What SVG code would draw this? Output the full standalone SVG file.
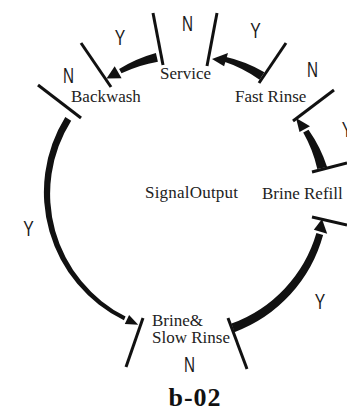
<svg xmlns="http://www.w3.org/2000/svg" width="347" height="410" viewBox="0 0 347 410">
<style>
.lbl{font-family:"Liberation Serif","Times New Roman",serif;font-size:17px;fill:#222}
.yn{font-family:"Liberation Sans",Arial,sans-serif;font-size:22px;fill:#1a1a1a;text-anchor:middle}
.tick{stroke:#111;stroke-width:3;stroke-linecap:butt;fill:none}
.band{fill:#111;stroke:none}
.title{font-family:"Liberation Serif","Times New Roman",serif;font-size:26px;font-weight:bold;fill:#111;text-anchor:middle}
</style>
<rect width="347" height="410" fill="#fff"/>
<g id="connectors">
  <!-- Service -> Backwash -->
  <path class="band" d="M155.9,52.9 A142.5,142.5 0 0 0 119.1,68.9 L121.5,73.3 A135.5,135.5 0 0 1 157.9,61.7 Z"/>
  <polygon class="band" points="106.5,78.5 114.7,66.2 121.6,78.3"/>
  <!-- Fast Rinse -> Service -->
  <path class="band" d="M264.4,72.2 A142.5,142.5 0 0 0 224.3,56.5 L223.0,61.3 A135.5,135.5 0 0 1 259.6,79.8 Z"/>
  <polygon class="band" points="212,59 228.0,52.9 224.1,66.3"/>
  <!-- Backwash -> Brine & Slow Rinse -->
  <path class="band" d="M65.3,117 A142.5,142.5 0 0 0 123.9,320.2 L125.6,316.6 A137.5,137.5 0 0 1 71.2,120.7 Z"/>
  <polygon class="band" points="138.2,324.8 124.8,324.0 129.1,314.9"/>
  <!-- Brine & Slow Rinse -> Brine Refill -->
  <path class="band" d="M234.4,332.2 A144,144 0 0 0 323.1,235.1 L316.4,233.1 A137,137 0 0 1 231.5,323.6 Z"/>
  <polygon class="band" points="322,219 327.2,233.7 313.8,229.8"/>
  <!-- Brine Refill -> Fast Rinse -->
  <path class="band" d="M327.1,167 A140,140 0 0 0 308.5,129.7 L303.2,132.5 A132,132 0 0 1 317.3,168.9 Z"/>
  <polygon class="band" points="296,118 310.0,126.2 299.5,131.9"/>
  <!-- ticks -->
  <line class="tick" x1="153" y1="13" x2="163" y2="65"/>
  <line class="tick" x1="217" y1="13" x2="207" y2="66"/>
  <line class="tick" x1="81" y1="43" x2="111" y2="87"/>
  <line class="tick" x1="38" y1="85" x2="81" y2="118"/>
  <line class="tick" x1="286" y1="43" x2="259" y2="83"/>
  <line class="tick" x1="334" y1="90" x2="293" y2="121"/>
  <line class="tick" x1="312" y1="172" x2="347" y2="163"/>
  <line class="tick" x1="312" y1="217" x2="347" y2="225"/>
  <line class="tick" x1="143" y1="318" x2="126" y2="367"/>
  <line class="tick" x1="228" y1="318" x2="247" y2="369"/>
  <!-- Y/N labels -->
  <text class="yn" x="187.5" y="31" textLength="11" lengthAdjust="spacingAndGlyphs">N</text>
  <text class="yn" x="120" y="45" textLength="10.5" lengthAdjust="spacingAndGlyphs">Y</text>
  <text class="yn" x="255.5" y="38" textLength="10.5" lengthAdjust="spacingAndGlyphs">Y</text>
  <text class="yn" x="68.5" y="83" textLength="11" lengthAdjust="spacingAndGlyphs">N</text>
  <text class="yn" x="312.5" y="77" textLength="11" lengthAdjust="spacingAndGlyphs">N</text>
  <text class="yn" x="347" y="137" textLength="10.5" lengthAdjust="spacingAndGlyphs">Y</text>
  <text class="yn" x="28.5" y="236" textLength="10.5" lengthAdjust="spacingAndGlyphs">Y</text>
  <text class="yn" x="320" y="309" textLength="10.5" lengthAdjust="spacingAndGlyphs">Y</text>
  <text class="yn" x="189.5" y="372" textLength="11" lengthAdjust="spacingAndGlyphs">N</text>
</g>
<g id="service"><text class="lbl" x="160" y="79">Service</text></g>
<g id="backwash"><text class="lbl" x="71" y="102">Backwash</text></g>
<g id="fast-rinse"><text class="lbl" x="235" y="102">Fast Rinse</text></g>
<g id="signal-output"><text class="lbl" x="145" y="198" textLength="93">SignalOutput</text></g>
<g id="brine-refill"><text class="lbl" x="262" y="199">Brine Refill</text></g>
<g id="brine-slow-rinse">
  <text class="lbl" x="152" y="326">Brine&amp;</text>
  <text class="lbl" x="152" y="343">Slow Rinse</text>
</g>
<g id="caption"><text class="title" x="194.5" y="406" textLength="52">b-02</text></g>
</svg>
